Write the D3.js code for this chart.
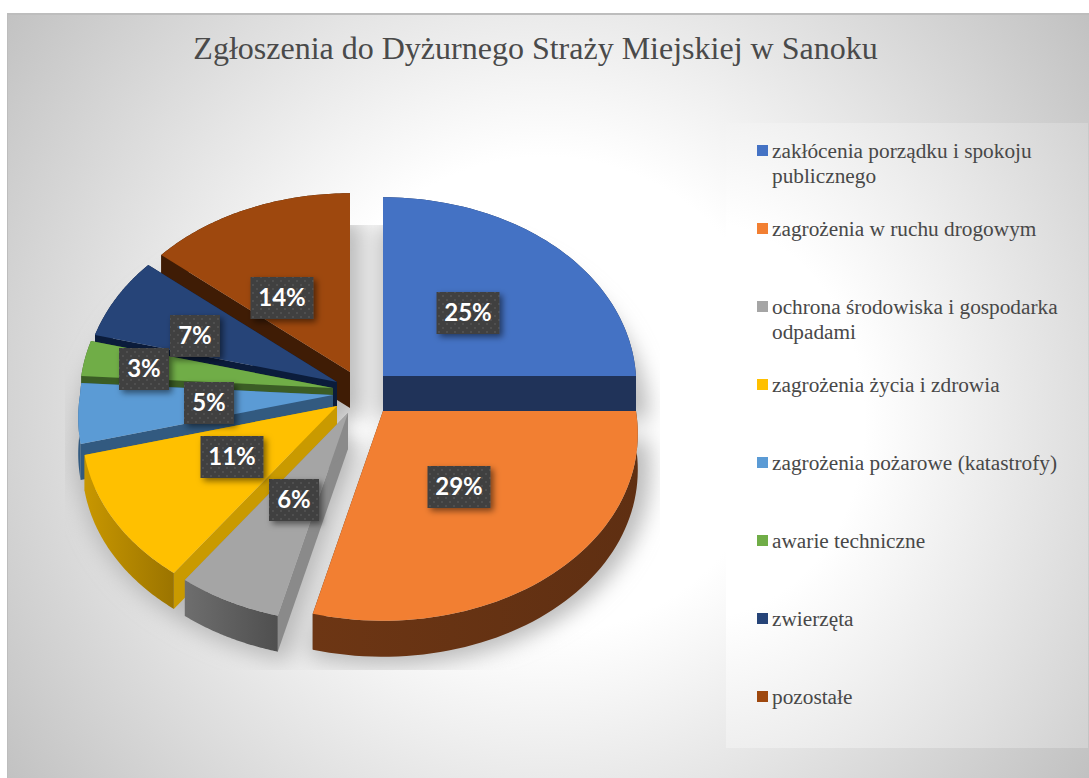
<!DOCTYPE html>
<html lang="pl">
<head>
<meta charset="utf-8">
<title>Zgłoszenia do Dyżurnego Straży Miejskiej w Sanoku</title>
<script src="https://cdn.jsdelivr.net/npm/d3@7"></script>
<style>
  html, body { margin: 0; padding: 0; background: #fff; }
  svg { display: block; }
</style>
</head>
<body>
<div id="chart"></div>
<script>
const chartTitle = "Zgłoszenia do Dyżurnego Straży Miejskiej w Sanoku";
const categories = [
  "zakłócenia porządku i spokoju\npublicznego",
  "zagrożenia w ruchu drogowym",
  "ochrona środowiska i gospodarka\nodpadami",
  "zagrożenia życia i zdrowia",
  "zagrożenia pożarowe (katastrofy)",
  "awarie techniczne",
  "zwierzęta",
  "pozostałe"
];
const values = [25, 29, 6, 11, 5, 3, 7, 14];

const topColors = ["#4472c4", "#f27f32", "#a5a5a5", "#ffc000", "#5b9bd5", "#70ad47", "#264478", "#9e480e"];
const cutColors = ["#203359", "#62300f", "#8a8a8a", "#c99a00", "#325a80", "#3b5d25", "#0b1c3b", "#3f1c05"];
const rimLeft   = ["#203359", "#6d3614", "#6e6e6e", "#c89700", "#325a80", "#3b5d25", "#0b1c3b", "#3f1c05"];
const rimRight  = ["#203359", "#5f2f12", "#4f4f4f", "#9b7400", "#325a80", "#3b5d25", "#0b1c3b", "#3f1c05"];

// przesuniecie wycinkow wzgledem srodka (explosion) i etykiet wzgledem wierzcholka
const explode = [[33, -14], [33, 21], [-2, 23], [-13, 16], [-17, 5], [-17, -2], [-13, -8], [0, -18]];
const labelShift = [[85, -63], [76, 76], [-54, 87], [-105, 51], [-124, 8], [-189, -19], [-142, -46], [-68, -74]];
// kolejnosc malowania od tylu do przodu
const paintOrder = [7, 6, 5, 4, 3, 2, 0, 1];

const width = 1089, height = 778;
const cx = 350, cy = 390;
const rx = 253, ry = 193, depth = 36;

const svg = d3.select("#chart").append("svg")
  .attr("width", width)
  .attr("height", height)
  .attr("viewBox", `0 0 ${width} ${height}`);

const defs = svg.append("defs");

const bgGrad = defs.append("radialGradient")
  .attr("id", "bg")
  .attr("gradientUnits", "userSpaceOnUse")
  .attr("cx", 545).attr("cy", 395).attr("r", 680);
bgGrad.append("stop").attr("offset", "0.35").attr("stop-color", "#ffffff");
bgGrad.append("stop").attr("offset", "1").attr("stop-color", "#bfbfbf");

const legendGrad = defs.append("radialGradient")
  .attr("id", "legendBg")
  .attr("gradientUnits", "userSpaceOnUse")
  .attr("cx", 700).attr("cy", 420).attr("r", 470)
  .attr("gradientTransform", "translate(700,420) scale(1,1.2) translate(-700,-420)");
legendGrad.append("stop").attr("offset", "0.35").attr("stop-color", "#ffffff");
legendGrad.append("stop").attr("offset", "1").attr("stop-color", "#d2d2d2");

defs.append("filter").attr("id", "blur").attr("x", "-20%").attr("y", "-20%").attr("width", "140%").attr("height", "140%")
  .append("feGaussianBlur").attr("stdDeviation", 11);

const boxShadow = defs.append("filter").attr("id", "boxShadow")
  .attr("x", "-30%").attr("y", "-30%").attr("width", "170%").attr("height", "170%");
boxShadow.append("feDropShadow")
  .attr("dx", 3).attr("dy", 3).attr("stdDeviation", 3)
  .attr("flood-color", "#000").attr("flood-opacity", 0.5);

const dots = defs.append("pattern").attr("id", "dots")
  .attr("patternUnits", "userSpaceOnUse").attr("width", 8).attr("height", 8);
dots.append("rect").attr("width", 8).attr("height", 8).attr("fill", "#3f3f3f");
dots.append("rect").attr("x", 2).attr("y", 2).attr("width", 2).attr("height", 2).attr("fill", "#505050");
dots.append("rect").attr("x", 6).attr("y", 6).attr("width", 2).attr("height", 2).attr("fill", "#505050");

defs.append("clipPath").attr("id", "shadowClip")
  .append("rect").attr("x", 65).attr("y", 225).attr("width", 595).attr("height", 445);

// tlo wykresu
svg.append("rect").attr("x", 7).attr("y", 13).attr("width", width - 7).attr("height", height - 13).attr("fill", "url(#bg)");
svg.append("rect").attr("x", 7).attr("y", 13).attr("width", width - 7).attr("height", 2).attr("fill", "#bdbdbd");
svg.append("rect").attr("x", 7).attr("y", 13).attr("width", 1).attr("height", height - 13).attr("fill", "#bdbdbd");
svg.append("rect").attr("x", 726).attr("y", 123).attr("width", 362).attr("height", 625).attr("fill", "url(#legendBg)");

// tytul
svg.append("text")
  .attr("x", 535.5).attr("y", 59)
  .attr("text-anchor", "middle")
  .style("font-family", "'Liberation Serif', serif")
  .style("font-size", "32px")
  .style("fill", "#4a4a4a")
  .text(chartTitle);

// rzut perspektywiczny: theta zgodnie ze wskazowkami zegara od gory
const project = theta => {
  const u = Math.sin(theta), v = -Math.cos(theta);
  const sx = 1 + (v > 0 ? 0.12 : 0.05) * v;
  const sy = 1 / (1 - 0.08 * v);
  return [u * rx * sx, v * ry * sy];
};

const pie = d3.pie().sort(null).value(d => d);
const arcs = pie(values);

const line = d3.line();
const ARC_STEPS = 60;

const slices = arcs.map((a, i) => {
  const apex = [cx + explode[i][0], cy + explode[i][1]];
  const rim = d3.range(ARC_STEPS + 1).map(k => {
    const t = a.startAngle + (a.endAngle - a.startAngle) * k / ARC_STEPS;
    const p = project(t);
    return [apex[0] + p[0], apex[1] + p[1]];
  });
  return { i, apex, rim };
});

const down = p => [p[0], p[1] + depth];

// cien pod wykresem
const shadow = svg.append("g").attr("clip-path", "url(#shadowClip)");
shadow.append("g").attr("filter", "url(#blur)")
  .selectAll("path")
  .data(slices)
  .join("path")
  .attr("d", s => line([s.apex, ...s.rim]) + "Z")
  .attr("transform", "translate(4,36)")
  .attr("stroke", "#b6b6b6").attr("stroke-width", 16)
  .attr("fill", "#c0c0c0");
shadow.append("circle").attr("cx", 360).attr("cy", 430).attr("r", 9)
  .attr("fill", "#ffffff").attr("opacity", 0.55).style("filter", "blur(6px)");

// gradienty krawedzi
slices.forEach(s => {
  const g = defs.append("linearGradient").attr("id", `rim${s.i}`);
  g.append("stop").attr("offset", "0").attr("stop-color", rimLeft[s.i]);
  g.append("stop").attr("offset", "1").attr("stop-color", rimRight[s.i]);
});

// wycinki
const sliceG = svg.append("g").selectAll("g")
  .data(paintOrder.map(i => slices[i]))
  .join("g");

// scianki ciecia
sliceG.append("path")
  .attr("d", s => {
    const first = s.rim[0];
    return line([s.apex, first, down(first), down(s.apex)]) + "Z";
  })
  .attr("fill", s => cutColors[s.i]);
sliceG.append("path")
  .attr("d", s => {
    const last = s.rim[s.rim.length - 1];
    return line([s.apex, last, down(last), down(s.apex)]) + "Z";
  })
  .attr("fill", s => cutColors[s.i]);
// krawedz zewnetrzna
sliceG.append("path")
  .attr("d", s => line([...s.rim, ...s.rim.slice().reverse().map(down)]) + "Z")
  .attr("fill", s => `url(#rim${s.i})`);
// gora
sliceG.append("path")
  .attr("d", s => line([s.apex, ...s.rim]) + "Z")
  .attr("fill", s => topColors[s.i]);

// etykiety procentowe
const labelG = svg.append("g").selectAll("g")
  .data(slices)
  .join("g")
  .attr("transform", s => `translate(${s.apex[0] + labelShift[s.i][0]},${s.apex[1] + labelShift[s.i][1]})`);

const boxWidth = s => (String(values[s.i]).length > 1 ? 63 : 50);
labelG.append("rect")
  .attr("x", s => -boxWidth(s) / 2)
  .attr("y", -21)
  .attr("width", boxWidth)
  .attr("height", 42)
  .attr("fill", "url(#dots)")
  .attr("filter", "url(#boxShadow)");
labelG.append("text")
  .attr("text-anchor", "middle")
  .attr("dy", "0.35em")
  .style("font-family", "Lato, sans-serif")
  .style("font-weight", 700)
  .style("font-size", "24px")
  .style("fill", "#fff")
  .text(s => `${values[s.i]}%`);

// legenda
const legendY = d3.scalePoint()
  .domain(d3.range(categories.length))
  .range([151, 697]);

const legendItem = svg.append("g").selectAll("g")
  .data(categories)
  .join("g")
  .attr("transform", (d, i) => `translate(757,${legendY(i)})`);

legendItem.append("rect")
  .attr("y", -6).attr("width", 11).attr("height", 11)
  .attr("fill", (d, i) => topColors[i]);

legendItem.append("text")
  .attr("x", 15)
  .style("font-family", "'Liberation Serif', serif")
  .style("font-size", "21.3px")
  .style("fill", "#484848")
  .selectAll("tspan")
  .data(d => d.split("\n"))
  .join("tspan")
  .attr("x", 15)
  .attr("y", (d, j) => 7 + j * 25)
  .text(d => d);
</script>
</body>
</html>
